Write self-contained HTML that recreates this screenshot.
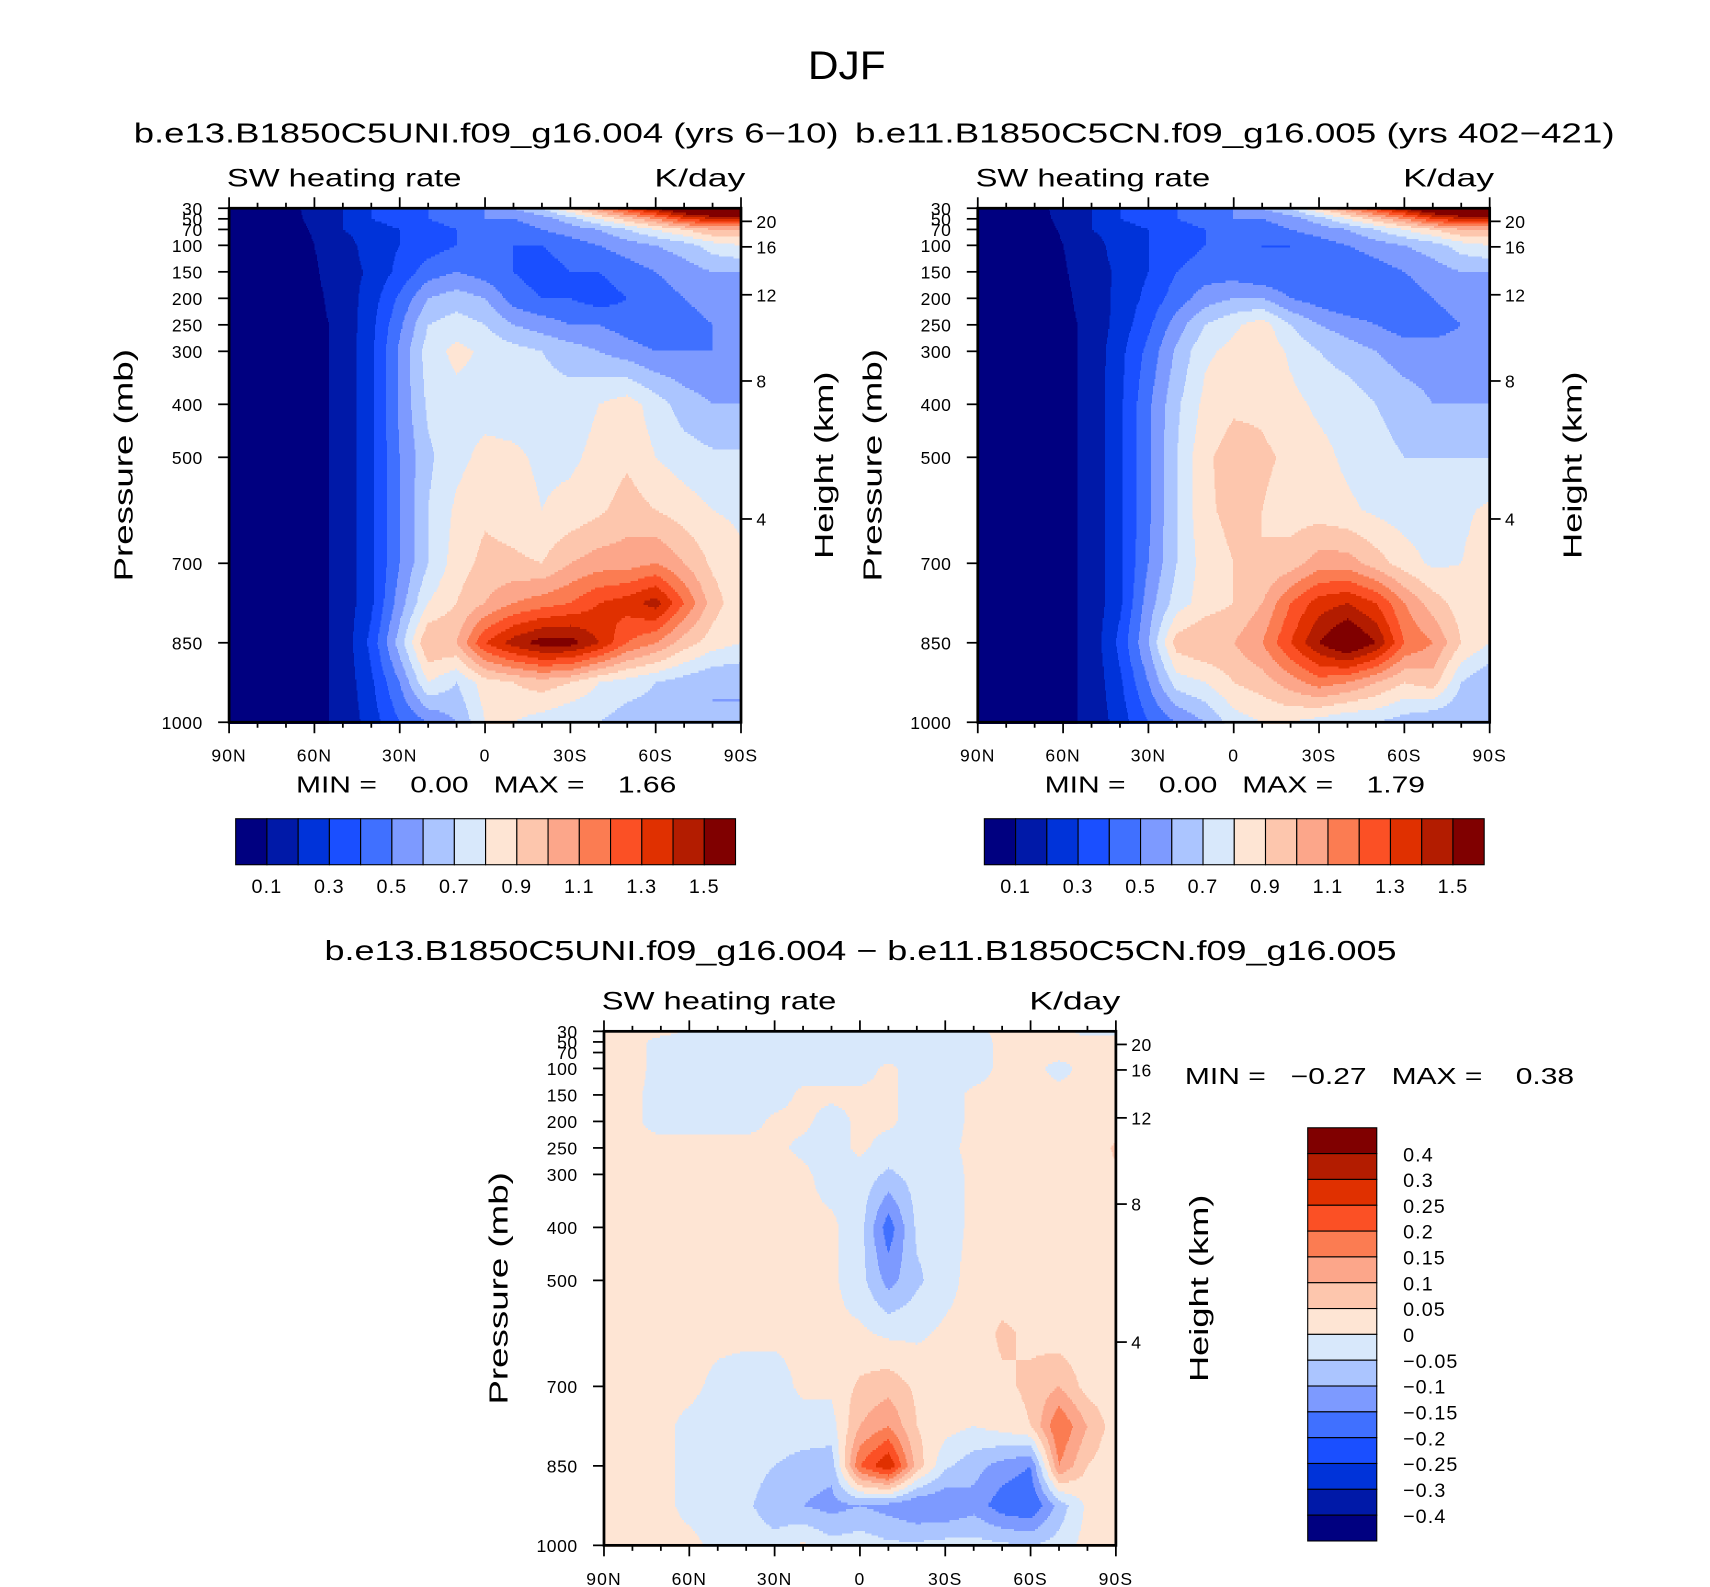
<!DOCTYPE html>
<html><head><meta charset="utf-8"><title>DJF SW heating rate</title>
<style>html,body{margin:0;padding:0;background:#fff;}svg{display:block;}text{font-family:"Liberation Sans",sans-serif;fill:#000;white-space:pre;}</style>
</head><body>
<svg id="fig" xmlns="http://www.w3.org/2000/svg" width="1710" height="1587" viewBox="0 0 1560 1448" preserveAspectRatio="none">
<rect x="0" y="0" width="1560" height="1448" fill="#fff"/>
<text x="737" y="72" font-size="36" textLength="71" lengthAdjust="spacingAndGlyphs">DJF</text>
<text x="122" y="130" font-size="25" textLength="643" lengthAdjust="spacingAndGlyphs">b.e13.B1850C5UNI.f09_g16.004 (yrs 6−10)</text>
<text x="780" y="130" font-size="25" textLength="693" lengthAdjust="spacingAndGlyphs">b.e11.B1850C5CN.f09_g16.005 (yrs 402−421)</text>
<text x="296" y="876" font-size="25" textLength="978" lengthAdjust="spacingAndGlyphs">b.e13.B1850C5UNI.f09_g16.004 − b.e11.B1850C5CN.f09_g16.005</text>
<g id="p1"></g>
<g id="p2"></g>
<g id="p3"></g>
</svg>
<script>
const lats = [90,80,70,60,50,40,30,20,10,0,-10,-20,-30,-40,-50,-60,-70,-80,-90];
const levels = [30,50,70,100,150,200,250,300,400,500,600,700,775,850,925,1000];
const uniVals = [
[0.05,0.05,0.08,0.12,0.2,0.3,0.35,0.4,0.45,0.5,0.6,0.7,0.9,1.1,1.3,1.5,1.7,1.8,1.8],
[0.05,0.05,0.07,0.12,0.2,0.3,0.35,0.4,0.45,0.5,0.5,0.55,0.65,0.8,0.95,1.1,1.3,1.4,1.4],
[0.05,0.05,0.06,0.11,0.2,0.25,0.3,0.35,0.4,0.4,0.45,0.5,0.55,0.6,0.7,0.8,0.9,1.0,1.0],
[0.05,0.05,0.05,0.1,0.15,0.25,0.3,0.35,0.4,0.4,0.4,0.4,0.45,0.5,0.55,0.6,0.65,0.75,0.8],
[0.05,0.05,0.05,0.09,0.15,0.22,0.33,0.45,0.5,0.45,0.4,0.35,0.4,0.4,0.45,0.5,0.55,0.6,0.6],
[0.05,0.05,0.05,0.08,0.14,0.25,0.42,0.6,0.65,0.6,0.45,0.4,0.4,0.35,0.4,0.45,0.5,0.55,0.55],
[0.05,0.05,0.05,0.07,0.13,0.27,0.48,0.7,0.75,0.7,0.6,0.55,0.5,0.5,0.45,0.4,0.45,0.5,0.5],
[0.05,0.05,0.05,0.07,0.13,0.28,0.52,0.75,0.83,0.78,0.74,0.7,0.65,0.6,0.55,0.5,0.5,0.5,0.5],
[0.05,0.05,0.05,0.07,0.13,0.28,0.52,0.72,0.76,0.76,0.75,0.75,0.75,0.8,0.85,0.75,0.65,0.6,0.6],
[0.05,0.05,0.05,0.07,0.13,0.28,0.5,0.68,0.77,0.83,0.82,0.78,0.78,0.83,0.88,0.8,0.75,0.72,0.72],
[0.05,0.05,0.05,0.07,0.13,0.28,0.5,0.7,0.82,0.88,0.85,0.8,0.83,0.88,0.95,0.9,0.85,0.8,0.78],
[0.05,0.05,0.05,0.07,0.13,0.28,0.5,0.7,0.85,0.93,0.92,0.9,1.0,1.05,1.05,1.1,1.0,0.88,0.82],
[0.05,0.05,0.05,0.07,0.13,0.28,0.55,0.8,0.9,1.0,1.1,1.15,1.2,1.3,1.35,1.45,1.2,0.95,0.82],
[0.05,0.05,0.05,0.07,0.13,0.33,0.65,1.0,1.0,1.3,1.45,1.55,1.55,1.4,1.2,1.1,0.95,0.85,0.8],
[0.05,0.05,0.05,0.07,0.13,0.28,0.5,0.8,0.7,0.85,0.9,0.95,0.9,0.8,0.75,0.7,0.65,0.6,0.6],
[0.05,0.05,0.05,0.08,0.12,0.25,0.4,0.5,0.6,0.8,0.8,0.75,0.7,0.7,0.65,0.65,0.6,0.6,0.6]];
const cnVals = [
[0.05,0.05,0.08,0.12,0.2,0.3,0.35,0.4,0.45,0.5,0.6,0.7,0.9,1.1,1.3,1.5,1.7,1.8,1.8],
[0.05,0.05,0.07,0.12,0.2,0.3,0.35,0.4,0.45,0.5,0.5,0.55,0.65,0.8,0.95,1.1,1.3,1.4,1.4],
[0.05,0.05,0.06,0.11,0.2,0.25,0.3,0.35,0.4,0.4,0.45,0.5,0.55,0.6,0.7,0.8,0.9,1.0,1.0],
[0.05,0.05,0.05,0.1,0.15,0.25,0.3,0.35,0.4,0.4,0.4,0.4,0.45,0.5,0.55,0.6,0.65,0.75,0.8],
[0.05,0.05,0.05,0.09,0.15,0.22,0.3,0.4,0.45,0.45,0.4,0.4,0.4,0.4,0.45,0.5,0.55,0.6,0.6],
[0.05,0.05,0.05,0.08,0.14,0.23,0.33,0.45,0.55,0.6,0.6,0.5,0.45,0.4,0.4,0.45,0.5,0.55,0.55],
[0.05,0.05,0.05,0.07,0.13,0.24,0.38,0.55,0.7,0.78,0.85,0.7,0.6,0.55,0.5,0.45,0.45,0.5,0.5],
[0.05,0.05,0.05,0.07,0.13,0.27,0.43,0.62,0.78,0.83,0.88,0.78,0.7,0.65,0.6,0.55,0.55,0.55,0.55],
[0.05,0.05,0.05,0.07,0.13,0.28,0.48,0.68,0.83,0.88,0.88,0.83,0.78,0.76,0.7,0.65,0.6,0.6,0.6],
[0.05,0.05,0.05,0.07,0.13,0.28,0.48,0.7,0.88,0.95,0.92,0.88,0.83,0.78,0.74,0.7,0.7,0.7,0.7],
[0.05,0.05,0.05,0.07,0.13,0.28,0.48,0.7,0.88,0.93,0.9,0.85,0.85,0.82,0.78,0.75,0.74,0.78,0.82],
[0.05,0.05,0.05,0.07,0.13,0.28,0.5,0.7,0.85,0.9,0.9,0.95,1.05,1.05,0.95,0.85,0.78,0.8,0.85],
[0.05,0.05,0.05,0.07,0.13,0.28,0.55,0.75,0.85,0.9,1.0,1.2,1.35,1.4,1.3,1.1,0.95,0.85,0.8],
[0.05,0.05,0.05,0.07,0.13,0.33,0.6,0.95,1.0,1.0,1.1,1.3,1.5,1.65,1.5,1.2,1.1,0.9,0.8],
[0.05,0.05,0.05,0.07,0.13,0.28,0.5,0.75,0.8,0.9,0.95,1.05,1.15,1.1,1.0,0.9,0.95,0.7,0.6],
[0.05,0.05,0.05,0.08,0.12,0.25,0.4,0.5,0.6,0.75,0.8,0.8,0.75,0.7,0.7,0.65,0.6,0.6,0.6]];
const diffVals = [
[0,0.02,0.02,-0.01,-0.02,-0.02,-0.02,-0.02,-0.02,-0.02,-0.02,-0.02,-0.01,-0.01,0.01,0.01,0.01,-0.01,-0.01],
[0.01,0.02,-0.02,-0.02,-0.02,-0.02,-0.02,-0.02,-0.02,-0.02,-0.02,-0.02,-0.02,-0.02,0.01,0.01,0.01,0.01,0.01],
[0.01,0.02,-0.02,-0.02,-0.02,-0.02,-0.02,-0.02,-0.02,-0.02,-0.02,-0.02,-0.02,-0.02,0.01,0.01,0.01,0.01,0.01],
[0.01,0.02,-0.02,-0.03,-0.03,-0.03,-0.02,-0.02,-0.02,-0.02,0.01,-0.02,-0.02,-0.02,0.01,0.01,-0.01,0.01,0.01],
[0.01,0.01,-0.02,-0.03,-0.03,-0.03,-0.02,0.01,0.01,0.01,0.01,-0.02,-0.02,0.01,0.01,0.01,0.01,0.01,0.01],
[0.01,0.01,-0.02,-0.02,-0.02,-0.02,0.01,0.01,-0.02,0.01,0.01,-0.02,-0.02,0.01,0.01,0.01,0.01,0.01,0.01],
[0.01,0.01,0.02,0.02,0.02,0.02,0.01,-0.01,-0.02,0.01,-0.02,-0.02,-0.01,0.01,0.01,0.01,0.01,0.01,0.06],
[0.01,0.01,0.02,0.02,0.02,0.02,0.02,0.01,-0.02,-0.02,-0.06,-0.03,-0.02,0.01,0.01,0.01,0.01,0.01,0.04],
[0.01,0.01,0.02,0.02,0.02,0.02,0.02,0.01,0.01,-0.03,-0.18,-0.04,-0.02,0.01,0.01,0.01,0.01,0.01,0.01],
[0.01,0.01,0.02,0.02,0.02,0.02,0.02,0.01,0.01,-0.03,-0.12,-0.06,-0.02,0.02,0.02,0.02,0.01,0.01,0.01],
[0.01,0.01,0.01,0.01,0.01,0.01,0.01,0.01,0.01,0.01,-0.01,-0.01,0.01,0.02,0.06,0.04,0.02,0.01,0.01],
[0.01,0.01,0.01,0.01,-0.01,-0.02,-0.02,0.01,0.01,0.06,0.08,0.04,0.02,0.02,0.04,0.06,0.1,0.03,0.01],
[0.01,0.01,0.01,-0.01,-0.02,-0.02,-0.02,-0.02,-0.02,0.1,0.15,0.05,0.02,0,0.02,0.05,0.2,0.1,0.02],
[0.01,0.01,0.01,-0.01,-0.02,-0.03,-0.05,-0.07,-0.08,0.2,0.3,0.08,-0.04,-0.08,-0.12,-0.15,0.15,0.05,0.01],
[0.01,0.01,0.01,-0.01,-0.02,-0.04,-0.08,-0.1,-0.12,-0.1,-0.12,-0.15,-0.15,-0.12,-0.18,-0.2,-0.08,0.01,0.01],
[0.01,0.01,0.01,0.01,-0.01,-0.02,-0.03,0.01,-0.03,-0.02,-0.04,-0.04,-0.03,-0.03,-0.04,-0.05,-0.03,0.02,0.01]];
const absLevels = [0.1,0.2,0.3,0.4,0.5,0.6,0.7,0.8,0.9,1.0,1.1,1.2,1.3,1.4,1.5];
const absLabels = ["0.1","0.3","0.5","0.7","0.9","1.1","1.3","1.5"];
const diffLevels = [-0.4,-0.3,-0.25,-0.2,-0.15,-0.1,-0.05,0,0.05,0.1,0.15,0.2,0.25,0.3,0.4];
const diffLabels = ["−0.4","−0.3","−0.25","−0.2","−0.15","−0.1","−0.05","0","0.05","0.1","0.15","0.2","0.25","0.3","0.4"];
const pLabels = [30,50,70,100,150,200,250,300,400,500,700,850,1000];
const heightKm = [4,8,12,16,20];
const latTicks = [90,60,30,0,-30,-60,-90];
const latTickLabels = ["90N","60N","30N","0","30S","60S","90S"];
const stats1 = ["0.00","1.66"], stats2 = ["0.00","1.79"], stats3 = ["−0.27","0.38"];

const palette = ['#000080','#0019a8','#0033d9','#1a4fff','#4070ff','#7d9aff','#abc5ff','#d8e8fb','#fee5d4','#fdc6ad','#fca68a','#fb7c52','#fb5025','#e03000','#b31c00','#800000'];
const NS = 'http://www.w3.org/2000/svg';
function el(parent, tag, attrs, txt){const e=document.createElementNS(NS,tag);for(const k in attrs)e.setAttribute(k,attrs[k]);if(txt!==undefined)e.textContent=txt;parent.appendChild(e);return e;}
function hToP(z){z*=1000;if(z<=11000)return 1013.25*Math.pow(1-2.2558e-5*z,5.256);return 226.3*Math.exp(-(z-11000)/6341.6);}

function sample(vals,lat,p){
  let fi=(90-lat)/10; let i=Math.min(17,Math.floor(fi)); let tx=fi-i;
  let j=0; while(j<levels.length-2 && p>levels[j+1]) j++;
  let ty=(p-levels[j])/(levels[j+1]-levels[j]); ty=Math.max(0,Math.min(1,ty));
  const a=vals[j][i],b=vals[j][i+1],c=vals[j+1][i],d=vals[j+1][i+1];
  return (a*(1-tx)+b*tx)*(1-ty)+(c*(1-tx)+d*tx)*ty;
}
function colorIndex(v,lv){let k=0;while(k<lv.length&&v>=lv[k])k++;return k;}

function panel(g,x0,y0,w,h,vals,lv,stats,cbar){
  const X=lat=>x0+(90-lat)/180*w;
  const Y=p=>y0+(p-30)/970*h;
  const lat=px=>90-(px-x0)/w*180;
  const pres=py=>30+(py-y0)/h*970;
  const field=el(g,'g',{'shape-rendering':'crispEdges'});
  
  
  const step=2;
  for(let py=y0;py<y0+h;py+=step){
    const p=pres(py+step/2);
    let runStart=x0, runC=-1;
    for(let px=x0;px<=x0+w;px++){
      let c= px<x0+w ? colorIndex(sample(vals,lat(px+0.5),p),lv) : -2;
      if(c!==runC){
        if(runC>=0){const r=el(field,'rect',{x:runStart,y:py,width:px-runStart+0.6,height:step+0.6,fill:palette[runC]});
          
          }
        runStart=px; runC=c;
      }
    }
  }
  const ax=el(g,'g',{stroke:'#000','stroke-width':1.6,fill:'none'});
  
  
  el(ax,'rect',{x:x0,y:y0,width:w,height:h,'stroke-width':2.5});
  for(let l=90;l>=-90;l-=10){
    const major=(l%30===0), len=major?10:5;
    el(ax,'line',{x1:X(l),x2:X(l),y1:y0+h,y2:y0+h+len});
    el(ax,'line',{x1:X(l),x2:X(l),y1:y0,y2:y0-len});
  }
  latTicks.forEach((l,i)=>{const t=el(g,'text',{x:X(l),y:y0+h+36,'font-size':16,'text-anchor':'middle','letter-spacing':1},latTickLabels[i]);
    
    });
  pLabels.forEach(p=>{el(ax,'line',{x1:x0-10,x2:x0,y1:Y(p),y2:Y(p)});
    const t=el(g,'text',{x:x0-24,y:Y(p)+6,'font-size':16,'text-anchor':'end','letter-spacing':0.5},String(p));
    
    });
  heightKm.forEach(z=>{const yy=Y(hToP(z));el(ax,'line',{x1:x0+w,x2:x0+w+10,y1:yy,y2:yy});
    const t=el(g,'text',{x:x0+w+14,y:yy+6,'font-size':16,'letter-spacing':0.5},String(z));
    
    });
  let t=el(g,'text',{x:x0-2,y:y0-20,'font-size':23,textLength:214,lengthAdjust:'spacingAndGlyphs'},'SW heating rate');
   
  t=el(g,'text',{x:x0+w-79,y:y0-20,'font-size':23,textLength:83,lengthAdjust:'spacingAndGlyphs'},'K/day');
   
  const cy=y0+h/2;
  t=el(g,'text',{x:x0-96,y:cy+8,'font-size':24,'text-anchor':'middle',textLength:212,lengthAdjust:'spacingAndGlyphs',transform:`rotate(-90 ${x0-96} ${cy})`},'Pressure (mb)');
   
  t=el(g,'text',{x:x0+w+76,y:cy+8,'font-size':24,'text-anchor':'middle',textLength:171,lengthAdjust:'spacingAndGlyphs',transform:`rotate(-90 ${x0+w+76} ${cy})`},'Height (km)');
   
  cbar(g,stats);
}

function hbar(cx0,cy0,cw,ch,sx,sy){
  return function(g,stats){
    let t=el(g,'text',{x:sx,y:sy,'font-size':21,textLength:347,lengthAdjust:'spacingAndGlyphs'},`MIN =    ${stats[0]}   MAX =    ${stats[1]}`);
     
    const cb=el(g,'g',{});
     
    const bw=cw/16;
    palette.forEach((c,i)=>{const r=el(cb,'rect',{x:cx0+i*bw,y:cy0,width:bw,height:ch,fill:c,stroke:'#000','stroke-width':1});
       });
    absLabels.forEach((s,i)=>{const tt=el(cb,'text',{x:cx0+(1+2*i)*bw,y:cy0+ch+26,'font-size':18,'text-anchor':'middle','letter-spacing':1},s);
       });
  };
}
function vbar(g,stats){
  let t=el(g,'text',{x:1081,y:989,'font-size':21,textLength:355,lengthAdjust:'spacingAndGlyphs'},`MIN =   ${stats[0]}   MAX =    ${stats[1]}`);
   
  const cb=el(g,'g',{});
   
  const x0=1193,y0=1029,w=63,h=377,bh=h/16;
  for(let i=0;i<16;i++){const r=el(cb,'rect',{x:x0,y:y0+i*bh,width:w,height:bh,fill:palette[15-i],stroke:'#000','stroke-width':1});
     }
  for(let i=0;i<15;i++){const tt=el(cb,'text',{x:1280,y:y0+(i+1)*bh+7,'font-size':18,'letter-spacing':1},diffLabels[14-i]);
     }
}

panel(document.getElementById('p1'),209,190,467,469,uniVals,absLevels,stats1,hbar(215,747,456,42,270,723));
panel(document.getElementById('p2'),892,190,467,469,cnVals,absLevels,stats2,hbar(898,747,456,42,953,723));
panel(document.getElementById('p3'),551,941,467,469,diffVals,diffLevels,stats3,vbar);
</script>
</body></html>
